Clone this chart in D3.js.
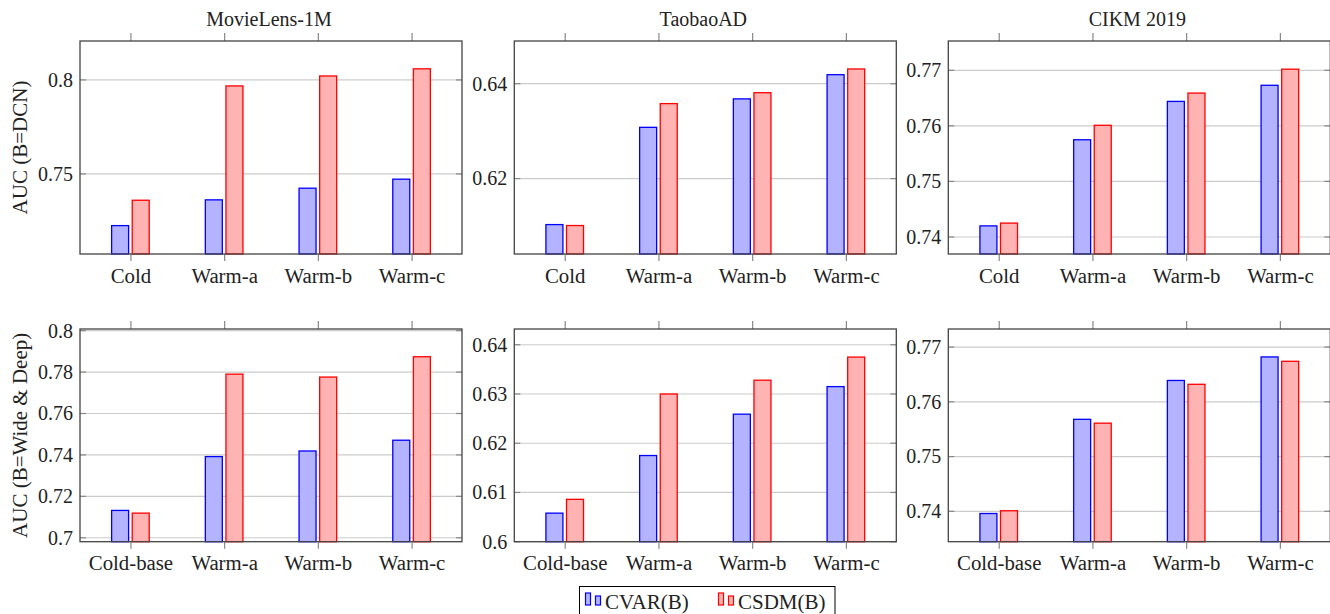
<!DOCTYPE html>
<html>
<head>
<meta charset="utf-8">
<script src="https://cdn.jsdelivr.net/npm/d3@7"></script>
<style>
  body { margin: 0; background: #fff; }
  svg text { font-family: "Liberation Serif", "Times New Roman", serif; fill: #222; }
</style>
</head>
<body>
<svg id="chart" width="1330" height="614"></svg>
<script>
// data
const datasets = ['MovieLens-1M', 'TaobaoAD', 'CIKM 2019'];
const catsTop = ['Cold', 'Warm-a', 'Warm-b', 'Warm-c'];
const catsBottom = ['Cold-base', 'Warm-a', 'Warm-b', 'Warm-c'];
const seriesNames = ['CVAR(B)', 'CSDM(B)'];
const rowLabels = ['AUC (B=DCN)', 'AUC (B=Wide & Deep)'];

// B = DCN
const cvarDcnMl = [0.7225, 0.7362, 0.7424, 0.7472];
const csdmDcnMl = [0.7360, 0.7968, 0.8021, 0.8059];
const cvarDcnTb = [0.6103, 0.6308, 0.6368, 0.6419];
const csdmDcnTb = [0.6101, 0.6358, 0.6381, 0.6431];
const cvarDcnCk = [0.7420, 0.7575, 0.7644, 0.7673];
const csdmDcnCk = [0.7425, 0.7601, 0.7659, 0.7702];
// B = Wide & Deep
const cvarWdMl = [0.7132, 0.7392, 0.7419, 0.7471];
const csdmWdMl = [0.7119, 0.7790, 0.7776, 0.7874];
const cvarWdTb = [0.6058, 0.6175, 0.6259, 0.6315];
const csdmWdTb = [0.6086, 0.6300, 0.6328, 0.6375];
const cvarWdCk = [0.7396, 0.7568, 0.7639, 0.7682];
const csdmWdCk = [0.7401, 0.7561, 0.7632, 0.7674];

// axis ticks per panel
const ticksDcnMl = [0.75, 0.8];
const ticksDcnTb = [0.62, 0.64];
const ticksDcnCk = [0.74, 0.75, 0.76, 0.77];
const ticksWdMl = [0.70, 0.72, 0.74, 0.76, 0.78, 0.80];
const ticksWdTb = [0.60, 0.61, 0.62, 0.63, 0.64];
const ticksWdCk = [0.74, 0.75, 0.76, 0.77];

const panels = [
  { row: 0, col: 0, cats: catsTop, vals: [cvarDcnMl, csdmDcnMl], domain: [0.7074, 0.8207], ticks: ticksDcnMl },
  { row: 0, col: 1, cats: catsTop, vals: [cvarDcnTb, csdmDcnTb], domain: [0.6041, 0.6490], ticks: ticksDcnTb },
  { row: 0, col: 2, cats: catsTop, vals: [cvarDcnCk, csdmDcnCk], domain: [0.73694, 0.77527], ticks: ticksDcnCk },
  { row: 1, col: 0, cats: catsBottom, vals: [cvarWdMl, csdmWdMl], domain: [0.6981, 0.8008], ticks: ticksWdMl },
  { row: 1, col: 1, cats: catsBottom, vals: [cvarWdTb, csdmWdTb], domain: [0.6000, 0.6432], ticks: ticksWdTb },
  { row: 1, col: 2, cats: catsBottom, vals: [cvarWdCk, csdmWdCk], domain: [0.73445, 0.7733], ticks: ticksWdCk }
];

const fills = ['#b3b3ff', '#ffb3b3'];
const strokes = ['#0000ff', '#ff0000'];
const colLeft = [80, 514.3, 948.3];
const panelW = 382;
const rowTop = [41, 329];
const rowBottom = [254, 541.7];
const barW = 17, barOff = 10.3;
const fontSize = 20;
const serif = '"Liberation Serif", "Times New Roman", serif';

const svg = d3.select('#chart');

panels.forEach(function (p) {
  const x0 = colLeft[p.col], x1 = x0 + panelW;
  const y0 = rowTop[p.row], y1 = rowBottom[p.row];
  const x = d3.scalePoint().domain(p.cats).range([x0, x1]).padding(0.538);
  const y = d3.scaleLinear().domain(p.domain).range([y1, y0]);
  const g = svg.append('g');

  // grid
  g.selectAll('line.grid').data(p.ticks).enter().append('line')
    .attr('x1', x0).attr('x2', x1)
    .attr('y1', d => y(d)).attr('y2', d => y(d))
    .attr('stroke', '#cccccc').attr('stroke-width', 1.2);
  // inner y ticks on both sides
  [[x0, x0 + 6], [x1 - 6, x1]].forEach(function (s) {
    g.selectAll(null).data(p.ticks).enter().append('line')
      .attr('x1', s[0]).attr('x2', s[1])
      .attr('y1', d => y(d)).attr('y2', d => y(d))
      .attr('stroke', '#888').attr('stroke-width', 1.2);
  });

  // bars
  p.vals.forEach(function (vals, si) {
    g.selectAll(null).data(vals).enter().append('rect')
      .attr('x', (d, i) => x(p.cats[i]) + (si === 0 ? -barOff : barOff) - barW / 2)
      .attr('y', d => y(d))
      .attr('width', barW)
      .attr('height', d => y1 - y(d))
      .attr('fill', fills[si])
      .attr('stroke', strokes[si])
      .attr('stroke-width', 1.3);
  });

  // y tick labels
  const yAxis = g.append('g').attr('transform', 'translate(' + x0 + ',0)')
    .call(d3.axisLeft(y).tickValues(p.ticks).tickSize(0).tickPadding(7)
      .tickFormat(d => String(+d.toFixed(3))))
    .attr('font-family', serif).attr('font-size', fontSize);
  yAxis.select('.domain').remove();
  yAxis.selectAll('text').attr('fill', '#222');

  // x axis bottom
  const xAxis = g.append('g').attr('transform', 'translate(0,' + y1 + ')')
    .call(d3.axisBottom(x).tickSizeInner(7).tickSizeOuter(0).tickPadding(7))
    .attr('font-family', serif).attr('font-size', 20.8);
  xAxis.select('.domain').remove();
  xAxis.selectAll('line').attr('stroke', '#888').attr('stroke-width', 1.2);
  xAxis.selectAll('text').attr('fill', '#222').attr('dy', null).attr('y', 28.5);

  // x ticks top
  const xTop = g.append('g').attr('transform', 'translate(0,' + y0 + ')')
    .call(d3.axisTop(x).tickSizeInner(8).tickSizeOuter(0).tickFormat(''));
  xTop.select('.domain').remove();
  xTop.selectAll('line').attr('stroke', '#888').attr('stroke-width', 1.2);

  // frame
  g.append('rect').attr('x', x0).attr('y', y0)
    .attr('width', panelW).attr('height', y1 - y0)
    .attr('fill', 'none').attr('stroke', '#444').attr('stroke-width', 1.3);
});

// column titles
svg.selectAll('text.title').data(datasets).enter().append('text')
  .attr('x', (d, i) => colLeft[i] + panelW / 2 - 2)
  .attr('y', 25.5)
  .attr('text-anchor', 'middle')
  .attr('font-size', fontSize)
  .text(d => d);

// row labels
svg.selectAll('text.rowlab').data(rowLabels).enter().append('text')
  .attr('transform', (d, i) => 'translate(27,' + ((rowTop[i] + rowBottom[i]) / 2) + ') rotate(-90)')
  .attr('text-anchor', 'middle')
  .attr('font-size', 21)
  .text(d => d);

// legend
const lg = svg.append('g');
lg.append('rect').attr('x', 579.5).attr('y', 586.5).attr('width', 255.5).attr('height', 40)
  .attr('fill', '#fff').attr('stroke', '#000').attr('stroke-width', 1);
const legX = [585.5, 718.5];
seriesNames.forEach(function (name, si) {
  const lx = legX[si];
  lg.append('rect').attr('x', lx).attr('y', 593).attr('width', 5).attr('height', 12)
    .attr('fill', fills[si]).attr('stroke', strokes[si]).attr('stroke-width', 1.2);
  lg.append('rect').attr('x', lx + 10).attr('y', 596).attr('width', 5).attr('height', 9)
    .attr('fill', fills[si]).attr('stroke', strokes[si]).attr('stroke-width', 1.2);
  lg.append('text').attr('x', lx + 19.5).attr('y', 609)
    .attr('font-size', 21).text(name);
});
</script>
</body>
</html>
